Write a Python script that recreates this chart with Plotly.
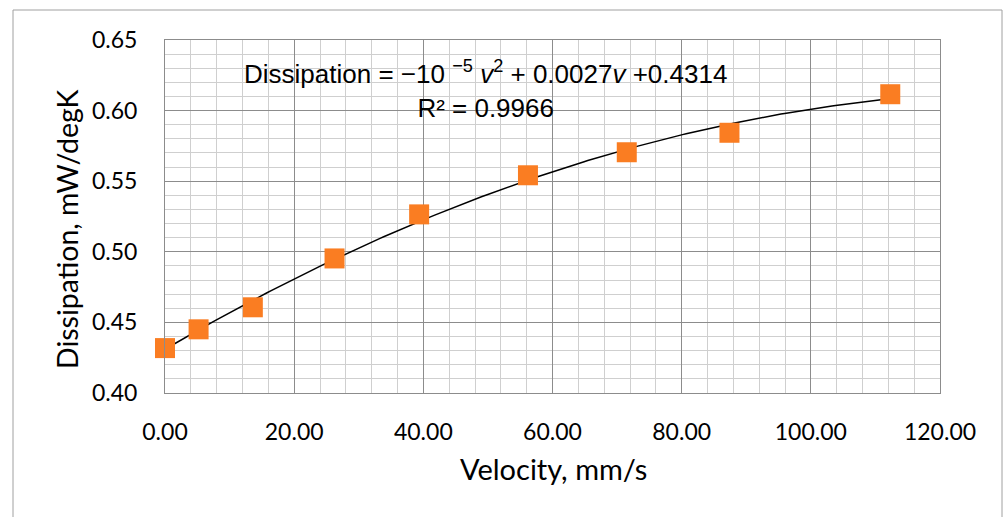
import numpy as np
import plotly.graph_objects as go

# Data
velocity = [0.0, 5.2, 13.6, 26.25, 39.35, 56.2, 71.5, 87.4, 112.3]
dissipation = [0.4318, 0.4451, 0.4607, 0.4953, 0.5265, 0.5542, 0.5705, 0.5843, 0.6116]
x_ticks = [0, 20, 40, 60, 80, 100, 120]
y_ticks = [0.40, 0.45, 0.50, 0.55, 0.60, 0.65]

# Quadratic trendline (least squares fit, like Excel's polynomial trendline)
coef = np.polyfit(velocity, dissipation, 2)
xs = np.linspace(min(velocity), max(velocity), 200)
ys = np.polyval(coef, xs)

W, H = 1007, 517
L, R, T, B = 165, 67, 40, 124
pw, ph = W - L - R, H - T - B

def px(x):
    return (x - L) / pw

def py(y):
    return (H - B - y) / ph

fig = go.Figure()
fig.add_trace(go.Scatter(x=xs, y=ys, mode="lines",
                         line=dict(color="black", width=1.5),
                         hoverinfo="skip", showlegend=False))
fig.add_trace(go.Scatter(x=velocity, y=dissipation, mode="markers",
                         marker=dict(symbol="square", size=20, color="#FA7D22",
                                     line=dict(width=0)),
                         cliponaxis=False, showlegend=False))

tickfont = dict(family="Lato", size=23, color="#000000")
fig.update_xaxes(range=[0, 120], tickvals=x_ticks, tickformat=".2f",
                 showgrid=True, gridcolor="#8c8c8c", gridwidth=1,
                 minor=dict(dtick=4, showgrid=True, gridcolor="#cfcfcf", gridwidth=1),
                 showline=True, linecolor="#8c8c8c", linewidth=1, mirror=True,
                 zeroline=False, ticks="", tickfont=tickfont, ticklabelstandoff=18)
fig.update_yaxes(range=[0.40, 0.65], tickvals=y_ticks, tickformat=".2f",
                 showgrid=True, gridcolor="#8c8c8c", gridwidth=1,
                 minor=dict(dtick=0.01, showgrid=True, gridcolor="#cfcfcf", gridwidth=1),
                 showline=True, linecolor="#8c8c8c", linewidth=1, mirror=True,
                 zeroline=False, ticks="", tickfont=tickfont, ticklabelstandoff=22)

fig.add_shape(type="rect", xref="paper", yref="paper",
              x0=px(13), x1=px(1002), y0=py(540), y1=py(10),
              line=dict(color="#a0a0a0", width=1), fillcolor="rgba(0,0,0,0)",
              layer="below")

fig.add_annotation(xref="paper", yref="paper", x=px(553), y=py(468),
                   text="Velocity, mm/s", showarrow=False,
                   font=dict(family="Lato", size=29, color="#000000"),
                   xanchor="center", yanchor="middle")
fig.add_annotation(xref="paper", yref="paper", x=px(67), y=py(229),
                   text="Dissipation, mW/degK", showarrow=False, textangle=-90,
                   font=dict(family="Lato", size=28.5, color="#000000"),
                   xanchor="center", yanchor="middle")
fig.add_annotation(xref="paper", yref="paper", x=px(485), y=py(90),
                   text="Dissipation = \u221210 <sup>\u22125</sup> <i>v</i><sup>2</sup> + 0.0027<i>v</i> +0.4314<br>R\u00b2 = 0.9966",
                   showarrow=False, align="center",
                   font=dict(family="Liberation Sans", size=26, color="#000000"),
                   xanchor="center", yanchor="middle")

fig.update_layout(width=W, height=H, margin=dict(l=L, r=R, t=T, b=B),
                  plot_bgcolor="white", paper_bgcolor="white")

fig.write_html("out.html")
